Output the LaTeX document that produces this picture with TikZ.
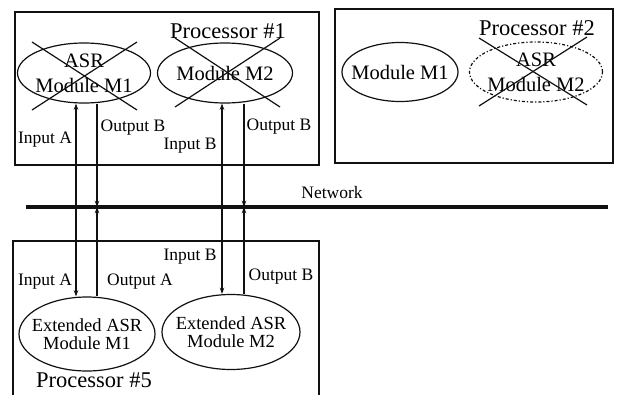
\documentclass[tikz,border=0pt]{standalone}
\usepackage{fontspec}
\setmainfont{Liberation Serif}
\usetikzlibrary{arrows.meta,shapes.geometric}
\definecolor{asrInk}{HTML}{111111}
\tikzset{
  >={Stealth[length=2.2mm,width=1.6mm]},
  procbox/.style={draw=asrInk, line width=1.3pt},
  module/.style={ellipse, draw=asrInk, line width=1.2pt, align=center,
              inner xsep=-14pt, inner ysep=-5pt, font=\fontsize{20.5}{25}\selectfont},
  ghost/.style={module, dash dot},
  extmod/.style={module, font=\fontsize{18.5}{18}\selectfont},
  kill/.style={draw=asrInk, line width=1.2pt},
  lbl/.style={font=\fontsize{17.5}{20}\selectfont, inner sep=0pt},
  proc/.style={font=\fontsize{22.5}{26}\selectfont, inner sep=0pt},
  link/.style={draw=asrInk, line width=1.1pt},
  net/.style={draw=asrInk, line width=3.5pt},
}
\begin{document}
\begin{tikzpicture}[x=1pt,y=-1pt]
  \useasboundingbox (0,0) rectangle (619,394);
  % processor frames
  \draw[procbox] (15,12) rectangle (319,165);
  \draw[procbox] (335,9) rectangle (613,163);
  \draw[procbox] (319,400) -- (319,241) -- (13,241) -- (13,400);
  \node[proc] (p1) at (228,31) {Processor \#1};
  \node[proc] (p2) at (537,28) {Processor \#2};
  \node[proc] (p5) at (94,380) {Processor \#5};
  % modules
  \node[module, minimum width=133, minimum height=60] (tA) at (84,73) {ASR\\Module M1};
  \node[module, minimum width=135, minimum height=60] (tB) at (225,73) {Module M2};
  \node[module, minimum width=116, minimum height=59] (rA) at (400,72) {Module M1};
  \node[ghost, minimum width=133, minimum height=60] (rB) at (536,72) {ASR\\Module M2};
  \node[extmod, minimum width=136, minimum height=74] (bA) at (87,334) {Extended ASR\\Module M1};
  \node[extmod, minimum width=138, minimum height=75] (bB) at (231,332) {Extended ASR\\Module M2};
  % failed modules
  \draw[kill] ([shift={(-52,-31)}]tA.center) -- ([shift={(53,37)}]tA.center);
  \draw[kill] ([shift={(-52,37)}]tA.center) -- ([shift={(53,-31)}]tA.center);
  \draw[kill] ([shift={(-50,-35)}]tB.center) -- ([shift={(55,34)}]tB.center);
  \draw[kill] ([shift={(-50,34)}]tB.center) -- ([shift={(55,-35)}]tB.center);
  \draw[kill] ([shift={(-57,-34)}]rB.center) -- ([shift={(51,33)}]rB.center);
  \draw[kill] ([shift={(-57,34)}]rB.center) -- ([shift={(51,-35)}]rB.center);
  % network
  \coordinate (netL) at (26,207);
  \coordinate (netR) at (608,207);
  \draw[net] (netL) -- (netR);
  \node[lbl] (netlbl) at (332,193) {Network};
  \coordinate (iA) at (76,207);
  \coordinate (nA) at (97,207);
  \coordinate (iB) at (222,207);
  \coordinate (nB) at (244,207);
  \draw[link,<->] (tA.south -| iA) -- (bA.north -| iA);
  \draw[link,->] (tA.south -| nA) -- (nA);
  \draw[link,->] (bA.north -| nA) -- (nA);
  \draw[link,<->] (tB.south -| iB) -- (bB.north -| iB);
  \draw[link,->] (tB.south -| nB) -- (nB);
  \draw[link,->] (bB.north -| nB) -- (nB);
  % labels
  \node[lbl] (tinA) at (45,140) {Input A};
  \node[lbl] (toutA) at (133,128) {Output B};
  \node[lbl] (tinB) at (190,146) {Input B};
  \node[lbl] (toutB) at (279,127) {Output B};
  \node[lbl] (binA) at (45,282) {Input A};
  \node[lbl] (boutA) at (140,282) {Output A};
  \node[lbl] (binB) at (190,257) {Input B};
  \node[lbl] (boutB) at (281,277) {Output B};
\end{tikzpicture}
\end{document}
